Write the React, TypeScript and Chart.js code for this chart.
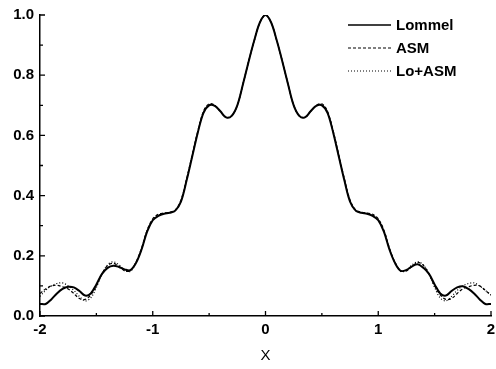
import React, { useEffect, useRef } from "react";
import { Chart, registerables } from "chart.js";

Chart.register(...registerables);

const xValues = [
  -2.0, -1.95, -1.9, -1.85, -1.8, -1.75, -1.7, -1.65, -1.6, -1.55, -1.5, -1.45, -1.4, -1.35, -1.3, -1.25, -1.2, -1.15, -1.1, -1.05,
  -1.0, -0.95, -0.9, -0.85, -0.8, -0.75, -0.7, -0.65, -0.6, -0.55, -0.5, -0.45, -0.4, -0.35, -0.3, -0.25, -0.2, -0.15, -0.1, -0.05,
  0.0, 0.05, 0.1, 0.15, 0.2, 0.25, 0.3, 0.35, 0.4, 0.45, 0.5, 0.55, 0.6, 0.65, 0.7, 0.75, 0.8, 0.85, 0.9, 0.95,
  1.0, 1.05, 1.1, 1.15, 1.2, 1.25, 1.3, 1.35, 1.4, 1.45, 1.5, 1.55, 1.6, 1.65, 1.7, 1.75, 1.8, 1.85, 1.9, 1.95, 2.0,
];

const lommel = [
  0.04, 0.04, 0.055, 0.075, 0.09, 0.097, 0.095, 0.083, 0.068, 0.075, 0.105, 0.14, 0.16, 0.167, 0.163, 0.155, 0.152, 0.175, 0.22, 0.28,
  0.318, 0.333, 0.34, 0.343, 0.35, 0.38, 0.45, 0.53, 0.61, 0.675, 0.7, 0.698, 0.68, 0.66, 0.665, 0.7, 0.77, 0.845, 0.915, 0.975,
  1.0, 0.975, 0.915, 0.845, 0.77, 0.7, 0.665, 0.66, 0.68, 0.698, 0.7, 0.675, 0.61, 0.53, 0.45, 0.38, 0.35, 0.343, 0.34, 0.333,
  0.318, 0.28, 0.22, 0.175, 0.15, 0.153, 0.165, 0.172, 0.16, 0.14, 0.105, 0.075, 0.068, 0.083, 0.095, 0.099, 0.09, 0.075, 0.055, 0.04, 0.04,
];

const asm = [
  0.075, 0.09, 0.1, 0.102, 0.097, 0.09, 0.075, 0.058, 0.055, 0.07, 0.1, 0.14, 0.168, 0.175, 0.165, 0.15, 0.15, 0.178, 0.225, 0.285,
  0.323, 0.338, 0.342, 0.345, 0.352, 0.385, 0.455, 0.535, 0.615, 0.68, 0.705, 0.7, 0.68, 0.66, 0.665, 0.7, 0.77, 0.845, 0.915, 0.975,
  1.0, 0.975, 0.915, 0.845, 0.77, 0.7, 0.665, 0.66, 0.68, 0.7, 0.705, 0.68, 0.615, 0.535, 0.455, 0.385, 0.352, 0.345, 0.342, 0.338,
  0.323, 0.285, 0.225, 0.178, 0.15, 0.15, 0.165, 0.178, 0.168, 0.14, 0.1, 0.07, 0.055, 0.058, 0.075, 0.09, 0.097, 0.102, 0.1, 0.085, 0.07,
];

const loAsm = [
  0.065, 0.085, 0.1, 0.108, 0.11, 0.1, 0.085, 0.065, 0.05, 0.06, 0.095, 0.14, 0.17, 0.18, 0.17, 0.152, 0.148, 0.176, 0.222, 0.282,
  0.32, 0.335, 0.34, 0.344, 0.35, 0.382, 0.452, 0.532, 0.612, 0.677, 0.702, 0.699, 0.68, 0.66, 0.665, 0.7, 0.77, 0.845, 0.915, 0.975,
  1.0, 0.975, 0.915, 0.845, 0.77, 0.7, 0.665, 0.66, 0.68, 0.699, 0.702, 0.677, 0.612, 0.532, 0.452, 0.382, 0.35, 0.344, 0.34, 0.335,
  0.32, 0.282, 0.222, 0.176, 0.148, 0.152, 0.17, 0.18, 0.17, 0.14, 0.095, 0.06, 0.05, 0.065, 0.085, 0.1, 0.108, 0.11, 0.1, 0.085, 0.07,
];

const seriesNames = ["Lommel", "ASM", "Lo+ASM"];
const xTickMajor = [-2, -1, 0, 1, 2];
const xTickMinor = [-1.5, -0.5, 0.5, 1.5];
const yTickMajor = [0, 0.2, 0.4, 0.6, 0.8, 1.0];
const yTickMinor = [0.1, 0.3, 0.5, 0.7, 0.9];

const FONT = "'Liberation Sans', Arial, sans-serif";

const toPoints = (ys: number[]) => xValues.map((x, i) => ({ x, y: ys[i] }));

const innerTicks = {
  id: "innerTicks",
  afterDraw(chart: any) {
    const ctx = chart.ctx;
    const xs = chart.scales.x;
    const ys = chart.scales.y;
    const area = chart.chartArea;
    ctx.save();
    ctx.strokeStyle = "#000";
    ctx.lineWidth = 1.3;
    ctx.beginPath();
    xTickMajor.forEach((v) => {
      const p = xs.getPixelForValue(v);
      ctx.moveTo(p, area.bottom);
      ctx.lineTo(p, area.bottom - 5);
    });
    xTickMinor.forEach((v) => {
      const p = xs.getPixelForValue(v);
      ctx.moveTo(p, area.bottom);
      ctx.lineTo(p, area.bottom - 3);
    });
    yTickMajor.forEach((v) => {
      const p = ys.getPixelForValue(v);
      ctx.moveTo(area.left, p);
      ctx.lineTo(area.left + 5, p);
    });
    yTickMinor.forEach((v) => {
      const p = ys.getPixelForValue(v);
      ctx.moveTo(area.left, p);
      ctx.lineTo(area.left + 3, p);
    });
    ctx.stroke();
    ctx.restore();
  },
};

const customLegend = {
  id: "customLegend",
  afterDraw(chart: any) {
    const ctx = chart.ctx;
    const x0 = 348;
    const x1 = 391;
    const rows = [25, 48, 71];
    ctx.save();
    chart.data.datasets.forEach((ds: any, i: number) => {
      ctx.beginPath();
      ctx.strokeStyle = "#000";
      ctx.lineWidth = i === 0 ? 1.6 : 1.2;
      ctx.setLineDash(ds.borderDash || []);
      ctx.moveTo(x0, rows[i]);
      ctx.lineTo(x1, rows[i]);
      ctx.stroke();
      ctx.setLineDash([]);
      ctx.fillStyle = "#000";
      ctx.font = `bold 15px ${FONT}`;
      ctx.textBaseline = "middle";
      ctx.textAlign = "left";
      ctx.fillText(ds.label, 396, rows[i] + 1);
    });
    ctx.restore();
  },
};

export default function App() {
  const ref = useRef<HTMLCanvasElement | null>(null);

  useEffect(() => {
    document.body.style.margin = "0";
    if (!ref.current) return;
    const chart = new Chart(ref.current, {
      type: "line",
      data: {
        datasets: [
          {
            label: seriesNames[0],
            data: toPoints(lommel),
            borderColor: "#000",
            borderWidth: 2,
            pointRadius: 0,
            tension: 0.35,
            fill: false,
          },
          {
            label: seriesNames[1],
            data: toPoints(asm),
            borderColor: "#000",
            borderWidth: 1.2,
            borderDash: [3, 2],
            pointRadius: 0,
            tension: 0.35,
            fill: false,
          },
          {
            label: seriesNames[2],
            data: toPoints(loAsm),
            borderColor: "#000",
            borderWidth: 1.2,
            borderDash: [1, 2],
            pointRadius: 0,
            tension: 0.35,
            fill: false,
          },
        ],
      },
      options: {
        responsive: false,
        animation: false,
        layout: { padding: { top: 15, right: 0, left: 0, bottom: 0 } },
        plugins: { legend: { display: false }, tooltip: { enabled: false } },
        scales: {
          x: {
            type: "linear",
            min: -2,
            max: 2,
            afterFit: (s: any) => {
              s.height = 53;
              s.paddingLeft = 0;
              s.paddingRight = 5;
            },
            afterBuildTicks: (s: any) => {
              s.ticks = xTickMajor.map((v) => ({ value: v }));
            },
            grid: { display: false, drawTicks: false },
            border: { display: true, color: "#000", width: 1.5 },
            ticks: {
              color: "#000",
              padding: 5,
              font: { family: FONT, size: 15, weight: "bold" },
              callback: (v: any) => String(v),
            },
            title: {
              display: true,
              text: "X",
              color: "#000",
              font: { family: FONT, size: 15 },
              padding: { top: 5 },
            },
          },
          y: {
            type: "linear",
            min: 0,
            max: 1,
            afterFit: (s: any) => {
              s.width = 40;
            },
            afterBuildTicks: (s: any) => {
              s.ticks = yTickMajor.map((v) => ({ value: v }));
            },
            grid: { display: false, drawTicks: false },
            border: { display: true, color: "#000", width: 1.5 },
            ticks: {
              color: "#000",
              padding: 6,
              font: { family: FONT, size: 15, weight: "bold" },
              callback: (v: any) => Number(v).toFixed(1),
            },
          },
        },
      },
      plugins: [innerTicks, customLegend],
    } as any);
    return () => chart.destroy();
  }, []);

  return <canvas ref={ref} width={496} height={369} style={{ display: "block" }} />;
}
